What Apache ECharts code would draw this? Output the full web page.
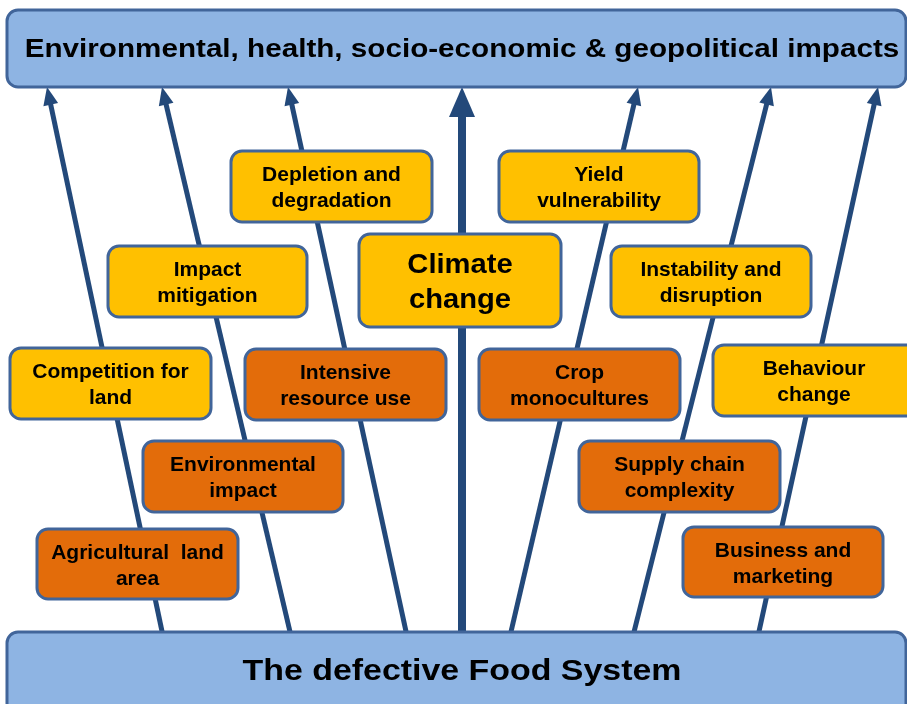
<!DOCTYPE html>
<html>
<head>
<meta charset="utf-8">
<script src="https://cdn.jsdelivr.net/npm/echarts@6/dist/echarts.min.js"></script>
<style>
  html, body { margin: 0; padding: 0; background: #fff; }
  #main { width: 907px; height: 704px; }
</style>
</head>
<body>
<div id="main"></div>
<script>
// banners (top / bottom)
var bannerText = ['Environmental, health, socio-economic & geopolitical impacts', 'The defective Food System'];
var bannerX0 = [7, 7];
var bannerX1 = [906, 906];
var bannerY0 = [10, 632];
var bannerY1 = [87, 714];
var bannerFont = [26, 30];
var bannerStretch = [1.14, 1.13];

// arrows: from food system (base) up to impacts (tip)
var arrowBaseX = [163, 291, 407, 462, 510, 633, 758];
var arrowTipX = [47, 162, 288, 462, 638, 771, 878];
var arrowBaseY = 632;
var arrowTipY = 87;
var arrowBold = [0, 0, 0, 1, 0, 0, 0];

// factor boxes
var boxText = [
  'Depletion and\ndegradation', 'Yield\nvulnerability', 'Impact\nmitigation', 'Climate\nchange',
  'Instability and\ndisruption', 'Competition for\nland', 'Intensive\nresource use', 'Crop\nmonocultures',
  'Behaviour\nchange', 'Environmental\nimpact', 'Supply chain\ncomplexity', 'Agricultural  land\narea',
  'Business and\nmarketing'
];
var boxKind = ['y', 'y', 'y', 'y', 'y', 'y', 'o', 'o', 'y', 'o', 'o', 'o', 'o'];
var boxX0 = [231, 499, 108, 359, 611, 10, 245, 479, 713, 143, 579, 37, 683];
var boxX1 = [432, 699, 307, 561, 811, 211, 446, 680, 918, 343, 780, 238, 883];
var boxY0 = [151, 151, 246, 234, 246, 348, 349, 349, 345, 441, 441, 529, 527];
var boxY1 = [222, 222, 317, 327, 317, 419, 420, 420, 416, 512, 512, 599, 597];

var kindColor = { y: '#FFC000', o: '#E36C0A' };
var lineColor = '#23497A';
var borderColor = '#41659A';
var fontFam = 'Arial';

var chart = echarts.init(document.getElementById('main'));

var arrowData = [];
for (var i = 0; i < arrowBaseX.length; i++) {
  arrowData.push([arrowBaseX[i], arrowBaseY, arrowTipX[i], arrowTipY, arrowBold[i]]);
}
var boxData = [];
for (var i = 0; i < boxText.length; i++) {
  boxData.push([boxX0[i], boxY0[i], boxX1[i], boxY1[i], i]);
}
var bannerData = [];
for (var i = 0; i < bannerText.length; i++) {
  bannerData.push([bannerX0[i], bannerY0[i], bannerX1[i], bannerY1[i], i]);
}

function renderArrow(params, api) {
  var a = api.coord([api.value(0), api.value(1)]);
  var b = api.coord([api.value(2), api.value(3)]);
  var bold = api.value(4) === 1;
  var lw = bold ? 8 : 5;
  var headLen = bold ? 30 : 18;
  var headW = bold ? 13 : 7.5;
  var dx = b[0] - a[0], dy = b[1] - a[1];
  var len = Math.sqrt(dx * dx + dy * dy);
  var ux = dx / len, uy = dy / len;
  var px = -uy, py = ux;
  var hb = [b[0] - ux * headLen, b[1] - uy * headLen];
  return {
    type: 'group',
    children: [
      {
        type: 'line',
        shape: { x1: a[0], y1: a[1] + 4, x2: hb[0] + ux * 2, y2: hb[1] + uy * 2 },
        style: { stroke: lineColor, lineWidth: lw }
      },
      {
        type: 'polygon',
        shape: { points: [[b[0], b[1]], [hb[0] + px * headW, hb[1] + py * headW], [hb[0] - px * headW, hb[1] - py * headW]] },
        style: { fill: lineColor }
      }
    ]
  };
}

function boxShape(api, fill, text, fontSize, lineH, cx, cy, stretch) {
  var p0 = api.coord([api.value(0), api.value(1)]);
  var p1 = api.coord([api.value(2), api.value(3)]);
  return {
    type: 'group',
    children: [
      {
        type: 'rect',
        shape: { x: p0[0], y: p0[1], width: p1[0] - p0[0], height: p1[1] - p0[1], r: 11 },
        style: { fill: fill, stroke: borderColor, lineWidth: 3 }
      },
      {
        type: 'text',
        x: cx != null ? cx : (p0[0] + p1[0]) / 2,
        y: cy != null ? cy : (p0[1] + p1[1]) / 2 + 2,
        scaleX: stretch || 1,
        style: {
          text: text,
          x: 0,
          y: 0,
          align: 'center',
          verticalAlign: 'middle',
          fill: '#000',
          font: 'bold ' + fontSize + 'px ' + fontFam,
          lineHeight: lineH
        }
      }
    ]
  };
}

var option = {
  animation: false,
  backgroundColor: '#fff',
  grid: { left: 0, right: 0, top: 0, bottom: 0 },
  xAxis: { type: 'value', min: 0, max: 907, show: false },
  yAxis: { type: 'value', min: 0, max: 704, inverse: true, show: false },
  series: [
    {
      type: 'custom',
      clip: false,
      data: arrowData,
      renderItem: renderArrow
    },
    {
      type: 'custom',
      clip: false,
      data: bannerData,
      renderItem: function (params, api) {
        var k = api.value(4);
        return boxShape(api, '#8EB4E3', bannerText[k], bannerFont[k], bannerFont[k] + 6,
          462, k === 1 ? 672 : 50, bannerStretch[k]);
      }
    },
    {
      type: 'custom',
      clip: false,
      data: boxData,
      renderItem: function (params, api) {
        var k = api.value(4);
        var big = boxText[k] === 'Climate\nchange';
        var cx = k === 8 ? 814 : null;
        var p0 = api.value(1), p1 = api.value(3);
        return boxShape(api, kindColor[boxKind[k]], boxText[k], big ? 27 : 21, big ? 35 : 26,
          cx, big ? (p0 + p1) / 2 + 3 : null, big ? 1.08 : 1);
      }
    }
  ]
};

chart.setOption(option);
</script>
</body>
</html>
